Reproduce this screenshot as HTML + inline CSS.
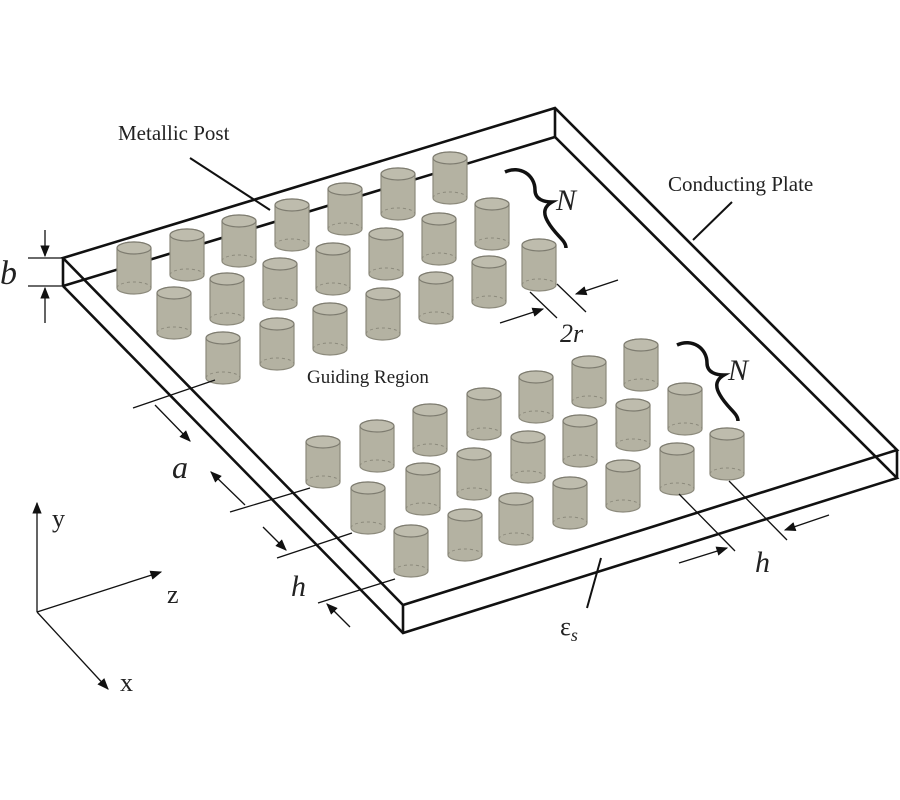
<!DOCTYPE html>
<html><head><meta charset="utf-8"><style>
html,body{margin:0;padding:0;background:#fff;}
svg{display:block}
text{font-family:"Liberation Serif",serif;fill:#222}
</style></head><body>
<svg id="s" width="900" height="800" viewBox="0 0 900 800" xmlns="http://www.w3.org/2000/svg">
<defs>
<marker id="ar" viewBox="0 0 10 10" refX="9" refY="5" markerWidth="9" markerHeight="9" orient="auto"><path d="M0,1 L10,5 L0,9 Z" fill="#111"/></marker>
</defs>
<g stroke="#111" stroke-width="2.6" fill="none">
<path d="M63,258 L555,108 L897,450 L403,605 Z"/>
<path d="M63,286 L555,137 L897,478 L403,633 L63,286"/>
<line x1="63" y1="258" x2="63" y2="286"/>
<line x1="555" y1="108" x2="555" y2="137"/>
<line x1="403" y1="605" x2="403" y2="633"/>
<line x1="897" y1="450" x2="897" y2="478"/>
</g>
<g id="posts"></g>
<g stroke="#111" stroke-width="1.3" fill="none">
<line x1="28" y1="258" x2="63" y2="258"/><line x1="28" y1="286" x2="63" y2="286"/>
<line x1="45" y1="230" x2="45" y2="256" marker-end="url(#ar)"/>
<line x1="45" y1="323" x2="45" y2="288" marker-end="url(#ar)"/>
<line x1="190" y1="158" x2="270" y2="210" stroke-width="2"/>
<line x1="732" y1="202" x2="693" y2="240" stroke-width="2"/>
<line x1="530" y1="292" x2="557" y2="318"/><line x1="557" y1="284" x2="586" y2="312"/>
<line x1="618" y1="280" x2="576" y2="294" marker-end="url(#ar)"/>
<line x1="500" y1="323" x2="543" y2="309" marker-end="url(#ar)"/>
<line x1="133" y1="408" x2="215" y2="380"/>
<line x1="155" y1="405" x2="190" y2="441" marker-end="url(#ar)"/>
<line x1="230" y1="512" x2="310" y2="488"/>
<line x1="245" y1="505" x2="211" y2="472" marker-end="url(#ar)"/>
<line x1="277" y1="558" x2="352" y2="533"/>
<line x1="263" y1="527" x2="286" y2="550" marker-end="url(#ar)"/>
<line x1="318" y1="603" x2="395" y2="579"/>
<line x1="350" y1="627" x2="327" y2="604" marker-end="url(#ar)"/>
<line x1="679" y1="494" x2="735" y2="551"/><line x1="729" y1="481" x2="787" y2="540"/>
<line x1="829" y1="515" x2="785" y2="530" marker-end="url(#ar)"/>
<line x1="679" y1="563" x2="727" y2="548" marker-end="url(#ar)"/>
<line x1="601" y1="558" x2="587" y2="608" stroke-width="2"/>
<line x1="37" y1="612" x2="37" y2="503" marker-end="url(#ar)"/>
<line x1="37" y1="612" x2="161" y2="572" marker-end="url(#ar)"/>
<line x1="37" y1="612" x2="108" y2="689" marker-end="url(#ar)"/>
</g>
<path d="M505,172 C520,165 535,175 535,190 C535,200 545,202 552,202 C545,206 542,212 548,222 C556,236 566,240 566,248" stroke="#111" stroke-width="3.5" fill="none"/>
<path d="M677,345 C692,338 707,348 707,363 C707,373 717,375 724,375 C717,379 714,385 720,395 C728,409 738,413 738,421" stroke="#111" stroke-width="3.5" fill="none"/>
<g>
<text x="118" y="140" font-size="21">Metallic Post</text>
<text x="668" y="191" font-size="21">Conducting Plate</text>
<text x="307" y="383" font-size="19">Guiding Region</text>
<text x="0" y="284" font-size="34" font-style="italic">b</text>
<text x="556" y="210" font-size="30" font-style="italic">N</text>
<text x="728" y="380" font-size="30" font-style="italic">N</text>
<text x="560" y="342" font-size="26" font-style="italic">2r</text>
<text x="172" y="478" font-size="32" font-style="italic">a</text>
<text x="291" y="596" font-size="30" font-style="italic">h</text>
<text x="755" y="572" font-size="30" font-style="italic">h</text>
<text x="560" y="635" font-size="26">ε<tspan font-size="18" font-style="italic" dy="6">s</tspan></text>
<text x="52" y="527" font-size="26">y</text>
<text x="167" y="603" font-size="26">z</text>
<text x="120" y="691" font-size="26">x</text>
</g>
<script>
(function(){
var g=document.getElementById('posts'),ns='http://www.w3.org/2000/svg';
var P=[];
var r1=[[134,248],[187,235],[239,221],[292,205],[345,189],[398,174],[450,158]];
var r2=[[174,293],[227,279],[280,264],[333,249],[386,234],[439,219],[492,204]];
var r3=[[223,338],[277,324],[330,309],[383,294],[436,278],[489,262],[539,245]];
var l1=[[323,442],[377,426],[430,410],[484,394],[536,377],[589,362],[641,345]];
var l2=[[368,488],[423,469],[474,454],[528,437],[580,421],[633,405],[685,389]];
var l3=[[411,531],[465,515],[516,499],[570,483],[623,466],[677,449],[727,434]];
P=P.concat(r1,r2,r3,l1,l2,l3);
P.sort(function(a,b){return a[1]-b[1];});
var rx=17,ry=6,h=40;
P.forEach(function(p){
 var x=p[0],y=p[1];
 var body=document.createElementNS(ns,'path');
 body.setAttribute('d','M'+(x-rx)+','+y+' L'+(x-rx)+','+(y+h)+' A'+rx+' '+ry+' 0 0 0 '+(x+rx)+','+(y+h)+' L'+(x+rx)+','+y+' A'+rx+' '+ry+' 0 0 0 '+(x-rx)+','+y+' Z');
 body.setAttribute('fill','#b4b2a2');body.setAttribute('stroke','#8c8a7c');body.setAttribute('stroke-width','1.2');
 g.appendChild(body);
 var e=document.createElementNS(ns,'ellipse');
 e.setAttribute('cx',x);e.setAttribute('cy',y);e.setAttribute('rx',rx);e.setAttribute('ry',ry);
 e.setAttribute('fill','#bebcad');e.setAttribute('stroke','#7e7c70');e.setAttribute('stroke-width','1.2');
 g.appendChild(e);
 var d=document.createElementNS(ns,'path');
 d.setAttribute('d','M'+(x-rx)+','+(y+h)+' A'+rx+' '+ry+' 0 0 1 '+(x+rx)+','+(y+h));
 d.setAttribute('fill','none');d.setAttribute('stroke','#8c8a7c');d.setAttribute('stroke-dasharray','3,3');
 g.appendChild(d);
});
})();
</script>
</svg>
</body></html>
